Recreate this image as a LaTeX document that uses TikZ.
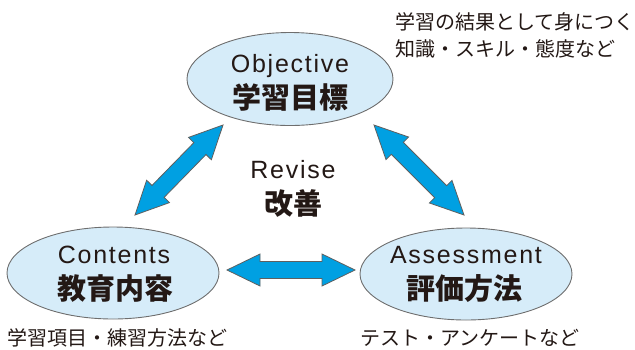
\documentclass[tikz,border=0pt]{standalone}
\usepackage{fontspec}
\setmainfont{Liberation Sans}
\newfontfamily\enfont[LetterSpace=7]{Liberation Sans}
\newfontfamily\jpfont{Noto Sans CJK JP}
\usetikzlibrary{calc,shapes.geometric}
\definecolor{ovalfill}{RGB}{214,236,249}
\definecolor{ovalline}{RGB}{110,110,110}
\definecolor{arrowblue}{RGB}{0,160,226}
\definecolor{arrowline}{RGB}{95,95,95}
\definecolor{ink}{RGB}{35,24,21}
% size of the fat two-headed arrows
\newcommand{\arrhead}{33pt}
\newcommand{\arrhalf}{16pt}
\newcommand{\arrshaft}{8.5pt}
\newcommand{\fatarrow}[2]{%
  \draw[fatarrow] (#1)
    -- ($(#1)!\arrhead!(#2)!\arrhalf!90:(#2)$)
    -- ($(#1)!\arrhead!(#2)!\arrshaft!90:(#2)$)
    -- ($(#2)!\arrhead!(#1)!\arrshaft!-90:(#1)$)
    -- ($(#2)!\arrhead!(#1)!\arrhalf!-90:(#1)$)
    -- (#2)
    -- ($(#2)!\arrhead!(#1)!\arrhalf!90:(#1)$)
    -- ($(#2)!\arrhead!(#1)!\arrshaft!90:(#1)$)
    -- ($(#1)!\arrhead!(#2)!\arrshaft!-90:(#2)$)
    -- ($(#1)!\arrhead!(#2)!\arrhalf!-90:(#2)$)
    -- cycle;}

\begin{document}
\begin{tikzpicture}[
  x=1pt, y=-1pt,
  oval/.style={ellipse, draw=ovalline, line width=0.9pt, fill=ovalfill, inner sep=0pt},
  entext/.style={anchor=base, text=ink, font=\enfont\fontsize{25}{30}\selectfont},
  jptext/.style={anchor=base, text=ink, font=\jpfont\bfseries\fontsize{29}{34}\selectfont},
  note/.style={text=ink, font=\jpfont\fontsize{20}{24}\selectfont},
  fatarrow/.style={draw=arrowline, line width=0.8pt, fill=arrowblue, line join=miter}
]
\useasboundingbox (0,0) rectangle (635,349);

% the three ovals
\node[oval, minimum width=206pt, minimum height=93pt] (obj) at (290,79) {};
\node[oval, minimum width=212pt, minimum height=92pt] (con) at (113,273) {};
\node[oval, minimum width=212pt, minimum height=92pt] (asm) at (466,274) {};

\node[entext] (objen) at (290,72) {Objective};
\node[jptext] (objjp) at (290,108) {学習目標};
\node[entext] (conen) at (114,263) {Contents};
\node[jptext] (conjp) at (115,299) {教育内容};
\node[entext] (asmen) at (466,263) {Assessment};
\node[jptext] (asmjp) at (464,299) {評価方法};
\node[entext] (reven) at (293,178) {Revise};
\node[jptext] (revjp) at (293,214) {改善};

% notes
\node[note, anchor=base west] (objnote1) at (392,29) {学習の結果として身につく};
\node[note, anchor=base west] (objnote2) at (392,56) {知識・スキル・態度など};
\node[note, anchor=base] (connote) at (118,345) {学習項目・練習方法など};
\node[note, anchor=base] (asmnote) at (470,345) {テスト・アンケートなど};

% arrows
\coordinate (lb) at (135,215);
\coordinate (lt) at (223,125);
\coordinate (rt) at (374,125);
\coordinate (rb) at (464,215);
\coordinate (hl) at (227,270);
\coordinate (hr) at (355,270);
\fatarrow{lb}{lt}
\fatarrow{rt}{rb}
\fatarrow{hl}{hr}
\end{tikzpicture}
\end{document}
